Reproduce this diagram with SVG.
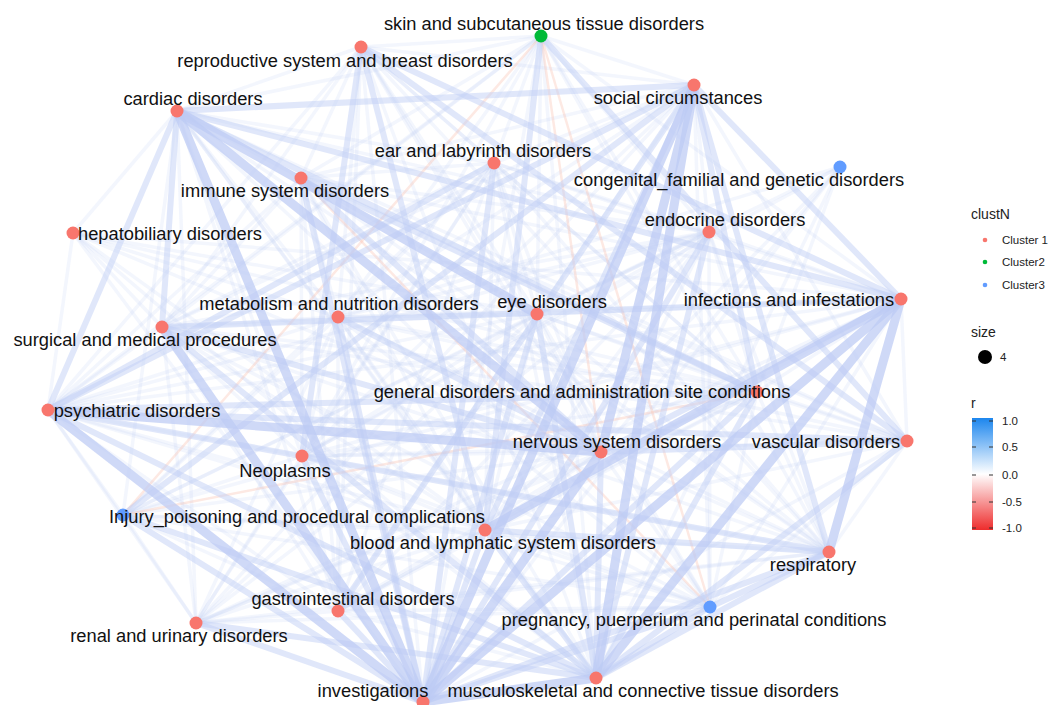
<svg xmlns="http://www.w3.org/2000/svg" width="1057" height="705" viewBox="0 0 1057 705">
<style>
.e1 path{stroke:#c2d0f5;stroke-width:3.5;stroke-opacity:0.2;fill:none}
.e2 path{stroke:#c2d0f5;stroke-width:6;stroke-opacity:0.5;fill:none}
.e3 path{stroke:#bccbf4;stroke-width:9;stroke-opacity:0.72;fill:none}
.en path{stroke:#f8bfae;stroke-width:2.5;stroke-opacity:0.35;fill:none}
.c1{fill:#F8766D}.c2{fill:#00BA38}.c3{fill:#619CFF}
text{font-family:"Liberation Sans",Arial,sans-serif;fill:#111}
.lb{font-size:18.3px;text-anchor:middle}
.lg{font-size:11.5px;fill:#222}
.lt{font-size:14px;fill:#222}
.tk{stroke:#333;stroke-width:1}
</style>
<defs>
<linearGradient id="rg" x1="0" y1="0" x2="0" y2="1">
<stop offset="0" stop-color="#1C86EE"/>
<stop offset="0.5" stop-color="#ffffff"/>
<stop offset="1" stop-color="#EE2C2C"/>
</linearGradient>
</defs>
<rect width="1057" height="705" fill="#ffffff"/>
<g id="connectors">
<g class="e1">
<path d="M541 36L361 47"/><path d="M541 36L177 111"/><path d="M541 36L494 163"/><path d="M541 36L301 178"/><path d="M541 36L338 317"/><path d="M541 36L537 314"/><path d="M541 36L162 327"/><path d="M541 36L48 410"/><path d="M541 36L302 456"/><path d="M541 36L423 702"/><path d="M541 36L596 678"/><path d="M541 36L757 392"/><path d="M541 36L901 299"/><path d="M541 36L694 85"/><path d="M541 36L709 232"/><path d="M541 36L829 552"/>
<path d="M361 47L177 111"/><path d="M361 47L494 163"/><path d="M361 47L301 178"/><path d="M361 47L338 317"/><path d="M361 47L537 314"/><path d="M361 47L162 327"/><path d="M361 47L48 410"/><path d="M361 47L601 452"/><path d="M361 47L757 392"/><path d="M361 47L338 611"/><path d="M361 47L423 702"/><path d="M361 47L596 678"/><path d="M361 47L694 85"/><path d="M361 47L829 552"/><path d="M361 47L710 607"/>
<path d="M177 111L494 163"/><path d="M177 111L301 178"/><path d="M177 111L338 317"/><path d="M177 111L302 456"/><path d="M177 111L485 530"/><path d="M177 111L338 611"/><path d="M177 111L196 623"/><path d="M177 111L596 678"/><path d="M177 111L829 552"/><path d="M177 111L710 607"/><path d="M177 111L907 441"/><path d="M177 111L123 515"/><path d="M177 111L73 233"/><path d="M177 111L709 232"/>
<path d="M694 85L494 163"/><path d="M694 85L301 178"/><path d="M694 85L338 317"/><path d="M694 85L537 314"/><path d="M694 85L162 327"/><path d="M694 85L302 456"/><path d="M694 85L196 623"/><path d="M694 85L710 607"/><path d="M694 85L709 232"/><path d="M694 85L907 441"/>
<path d="M494 163L301 178"/><path d="M494 163L338 317"/><path d="M494 163L537 314"/><path d="M494 163L162 327"/><path d="M494 163L757 392"/><path d="M494 163L601 452"/><path d="M494 163L485 530"/><path d="M494 163L596 678"/><path d="M494 163L901 299"/><path d="M494 163L829 552"/><path d="M494 163L302 456"/><path d="M494 163L123 515"/><path d="M494 163L338 611"/><path d="M494 163L196 623"/><path d="M494 163L709 232"/>
<path d="M301 178L338 317"/><path d="M301 178L537 314"/><path d="M301 178L162 327"/><path d="M301 178L48 410"/><path d="M301 178L485 530"/><path d="M301 178L596 678"/><path d="M301 178L901 299"/><path d="M301 178L829 552"/><path d="M301 178L302 456"/><path d="M301 178L338 611"/><path d="M301 178L709 232"/><path d="M301 178L907 441"/>
<path d="M840 167L757 392"/><path d="M840 167L601 452"/><path d="M840 167L485 530"/><path d="M840 167L423 702"/><path d="M840 167L596 678"/><path d="M840 167L537 314"/><path d="M840 167L302 456"/><path d="M840 167L338 317"/>
<path d="M709 232L338 317"/><path d="M709 232L537 314"/><path d="M709 232L162 327"/><path d="M709 232L48 410"/><path d="M709 232L601 452"/><path d="M709 232L485 530"/><path d="M709 232L901 299"/><path d="M709 232L829 552"/><path d="M709 232L757 392"/><path d="M709 232L123 515"/><path d="M709 232L302 456"/><path d="M709 232L338 611"/><path d="M709 232L196 623"/><path d="M709 232L710 607"/>
<path d="M73 233L338 317"/><path d="M73 233L537 314"/><path d="M73 233L757 392"/><path d="M73 233L601 452"/><path d="M73 233L423 702"/><path d="M73 233L596 678"/><path d="M73 233L901 299"/><path d="M73 233L48 410"/><path d="M73 233L485 530"/><path d="M73 233L162 327"/>
<path d="M338 317L537 314"/><path d="M338 317L162 327"/><path d="M338 317L48 410"/><path d="M338 317L485 530"/><path d="M338 317L596 678"/><path d="M338 317L901 299"/><path d="M338 317L757 392"/><path d="M338 317L829 552"/><path d="M338 317L338 611"/><path d="M338 317L302 456"/><path d="M338 317L196 623"/><path d="M338 317L123 515"/><path d="M338 317L907 441"/><path d="M338 317L710 607"/>
<path d="M537 314L162 327"/><path d="M537 314L48 410"/><path d="M537 314L601 452"/><path d="M537 314L485 530"/><path d="M537 314L901 299"/><path d="M537 314L757 392"/><path d="M537 314L829 552"/><path d="M537 314L302 456"/><path d="M537 314L338 611"/><path d="M537 314L710 607"/><path d="M537 314L196 623"/><path d="M537 314L123 515"/><path d="M537 314L907 441"/>
<path d="M901 299L757 392"/><path d="M901 299L48 410"/><path d="M901 299L302 456"/><path d="M901 299L123 515"/><path d="M901 299L338 611"/><path d="M901 299L196 623"/><path d="M901 299L907 441"/><path d="M901 299L710 607"/>
<path d="M162 327L757 392"/><path d="M162 327L485 530"/><path d="M162 327L829 552"/><path d="M162 327L302 456"/><path d="M162 327L338 611"/><path d="M162 327L710 607"/><path d="M162 327L196 623"/><path d="M162 327L48 410"/><path d="M162 327L907 441"/>
<path d="M757 392L601 452"/><path d="M757 392L485 530"/><path d="M757 392L829 552"/><path d="M757 392L710 607"/><path d="M757 392L302 456"/><path d="M757 392L338 611"/><path d="M757 392L907 441"/><path d="M757 392L196 623"/>
<path d="M48 410L302 456"/><path d="M48 410L123 515"/><path d="M48 410L485 530"/><path d="M48 410L338 611"/><path d="M48 410L710 607"/><path d="M48 410L196 623"/>
<path d="M601 452L302 456"/><path d="M601 452L485 530"/><path d="M601 452L829 552"/><path d="M601 452L710 607"/><path d="M601 452L338 611"/><path d="M601 452L196 623"/><path d="M601 452L123 515"/>
<path d="M907 441L829 552"/><path d="M907 441L485 530"/><path d="M907 441L710 607"/><path d="M907 441L423 702"/><path d="M907 441L302 456"/>
<path d="M302 456L485 530"/><path d="M302 456L596 678"/><path d="M302 456L338 611"/><path d="M302 456L829 552"/><path d="M302 456L710 607"/><path d="M302 456L196 623"/><path d="M302 456L123 515"/>
<path d="M123 515L485 530"/><path d="M123 515L338 611"/><path d="M123 515L196 623"/><path d="M123 515L829 552"/><path d="M123 515L710 607"/>
<path d="M485 530L338 611"/><path d="M485 530L710 607"/><path d="M485 530L196 623"/>
<path d="M829 552L338 611"/><path d="M829 552L196 623"/>
<path d="M338 611L596 678"/><path d="M338 611L710 607"/><path d="M338 611L196 623"/><path d="M710 607L196 623"/>
</g>
<g class="en">
<path d="M541 36L123 515"/><path d="M541 36L710 607"/><path d="M301 178L710 607"/><path d="M123 515L757 392"/><path d="M541 36L601 452"/>
</g>
<g class="e2">
<path d="M177 111L48 410"/><path d="M177 111L694 85"/><path d="M177 111L757 392"/><path d="M177 111L901 299"/><path d="M177 111L162 327"/>
<path d="M361 47L901 299"/><path d="M361 47L907 441"/><path d="M541 36L907 441"/>
<path d="M694 85L48 410"/><path d="M694 85L485 530"/><path d="M694 85L829 552"/><path d="M694 85L757 392"/><path d="M694 85L901 299"/><path d="M694 85L338 611"/><path d="M694 85L123 515"/>
<path d="M338 317L423 702"/><path d="M302 456L423 702"/><path d="M123 515L423 702"/><path d="M485 530L423 702"/><path d="M829 552L423 702"/><path d="M338 611L423 702"/><path d="M710 607L423 702"/><path d="M196 623L423 702"/><path d="M196 623L596 678"/>
<path d="M757 392L423 702"/><path d="M757 392L596 678"/><path d="M601 452L596 678"/><path d="M829 552L596 678"/><path d="M710 607L596 678"/><path d="M485 530L596 678"/>
<path d="M709 232L596 678"/><path d="M709 232L423 702"/><path d="M537 314L596 678"/><path d="M537 314L423 702"/><path d="M494 163L423 702"/><path d="M301 178L423 702"/>
<path d="M48 410L757 392"/><path d="M48 410L907 441"/><path d="M162 327L601 452"/><path d="M162 327L596 678"/><path d="M601 452L901 299"/>
<path d="M829 552L710 607"/><path d="M829 552L485 530"/><path d="M907 441L601 452"/><path d="M907 441L596 678"/><path d="M301 178L601 452"/><path d="M338 317L601 452"/>
<path d="M48 410L596 678"/><path d="M361 47L485 530"/><path d="M361 47L302 456"/><path d="M541 36L485 530"/><path d="M48 410L829 552"/><path d="M162 327L901 299"/><path d="M123 515L596 678"/><path d="M494 163L48 410"/><path d="M301 178L757 392"/>
</g>
<g class="e3">
<path d="M177 111L423 702"/><path d="M162 327L423 702"/><path d="M48 410L601 452"/><path d="M48 410L423 702"/><path d="M694 85L423 702"/><path d="M901 299L423 702"/><path d="M901 299L485 530"/><path d="M423 702L596 678"/><path d="M694 85L596 678"/><path d="M901 299L829 552"/><path d="M601 452L423 702"/><path d="M177 111L601 452"/><path d="M901 299L596 678"/><path d="M177 111L537 314"/><path d="M694 85L601 452"/>
</g>
</g>
<g id="nodes">
<g id="n-skin"><circle class="c2" cx="541" cy="36" r="6.5"/><text class="lb" x="544" y="30">skin and subcutaneous tissue disorders</text></g>
<g id="n-reproductive"><circle class="c1" cx="361" cy="47" r="6.5"/><text class="lb" x="345" y="67">reproductive system and breast disorders</text></g>
<g id="n-cardiac"><circle class="c1" cx="177" cy="111" r="6.5"/><text class="lb" x="193" y="105">cardiac disorders</text></g>
<g id="n-social"><circle class="c1" cx="694" cy="85" r="6.5"/><text class="lb" x="678" y="104">social circumstances</text></g>
<g id="n-ear"><circle class="c1" cx="494" cy="163" r="6.5"/><text class="lb" x="483" y="157">ear and labyrinth disorders</text></g>
<g id="n-immune"><circle class="c1" cx="301" cy="178" r="6.5"/><text class="lb" x="285" y="197">immune system disorders</text></g>
<g id="n-congenital"><circle class="c3" cx="840" cy="167" r="6.5"/><text class="lb" x="739" y="186">congenital_familial and genetic disorders</text></g>
<g id="n-endocrine"><circle class="c1" cx="709" cy="232" r="6.5"/><text class="lb" x="725" y="226">endocrine disorders</text></g>
<g id="n-hepatobiliary"><circle class="c1" cx="73" cy="233" r="6.5"/><text class="lb" x="170" y="240">hepatobiliary disorders</text></g>
<g id="n-metabolism"><circle class="c1" cx="338" cy="317" r="6.5"/><text class="lb" x="339" y="310">metabolism and nutrition disorders</text></g>
<g id="n-eye"><circle class="c1" cx="537" cy="314" r="6.5"/><text class="lb" x="552" y="308">eye disorders</text></g>
<g id="n-infections"><circle class="c1" cx="901" cy="299" r="6.5"/><text class="lb" x="789" y="306">infections and infestations</text></g>
<g id="n-surgical"><circle class="c1" cx="162" cy="327" r="6.5"/><text class="lb" x="145" y="346">surgical and medical procedures</text></g>
<g id="n-general"><circle class="c1" cx="757" cy="392" r="6.5"/><text class="lb" x="582" y="398">general disorders and administration site conditions</text></g>
<g id="n-psychiatric"><circle class="c1" cx="48" cy="410" r="6.5"/><text class="lb" x="137" y="417">psychiatric disorders</text></g>
<g id="n-nervous"><circle class="c1" cx="601" cy="452" r="6.5"/><text class="lb" x="617" y="448">nervous system disorders</text></g>
<g id="n-vascular"><circle class="c1" cx="907" cy="441" r="6.5"/><text class="lb" x="826" y="448">vascular disorders</text></g>
<g id="n-neoplasms"><circle class="c1" cx="302" cy="456" r="6.5"/><text class="lb" x="285" y="477">Neoplasms</text></g>
<g id="n-injury"><circle class="c3" cx="123" cy="515" r="6.5"/><text class="lb" x="297" y="523">Injury_poisoning and procedural complications</text></g>
<g id="n-blood"><circle class="c1" cx="485" cy="530" r="6.5"/><text class="lb" x="503" y="549">blood and lymphatic system disorders</text></g>
<g id="n-respiratory"><circle class="c1" cx="829" cy="552" r="6.5"/><text class="lb" x="813" y="571">respiratory</text></g>
<g id="n-gastrointestinal"><circle class="c1" cx="338" cy="611" r="6.5"/><text class="lb" x="353" y="605">gastrointestinal disorders</text></g>
<g id="n-pregnancy"><circle class="c3" cx="710" cy="607" r="6.5"/><text class="lb" x="694" y="626">pregnancy, puerperium and perinatal conditions</text></g>
<g id="n-renal"><circle class="c1" cx="196" cy="623" r="6.5"/><text class="lb" x="179" y="642">renal and urinary disorders</text></g>
<g id="n-investigations"><circle class="c1" cx="423" cy="702" r="6.5"/><text class="lb" x="373" y="697">investigations</text></g>
<g id="n-musculoskeletal"><circle class="c1" cx="596" cy="678" r="6.5"/><text class="lb" x="643" y="697">musculoskeletal and connective tissue disorders</text></g>
</g>
<g id="legend">
<text class="lt" x="971" y="219">clustN</text>
<circle class="c1" cx="985" cy="240" r="2.3"/><text class="lg" x="1002" y="244">Cluster 1</text>
<circle class="c2" cx="985" cy="262" r="2.3"/><text class="lg" x="1002" y="266">Cluster2</text>
<circle class="c3" cx="985" cy="285" r="2.3"/><text class="lg" x="1002" y="289">Cluster3</text>
<text class="lt" x="971" y="337">size</text>
<circle cx="985" cy="357" r="7" fill="#000"/><text class="lg" x="1000" y="361">4</text>
<text class="lt" x="971" y="408">r</text>
<rect x="972" y="418" width="21" height="112" fill="url(#rg)"/>
<path class="tk" d="M972 421h4M989 421h4M972 447h4M989 447h4M972 475h4M989 475h4M972 502h4M989 502h4M972 528h4M989 528h4"/>
<text class="lg" x="1002" y="425">1.0</text>
<text class="lg" x="1002" y="451">0.5</text>
<text class="lg" x="1002" y="479">0.0</text>
<text class="lg" x="1002" y="506">-0.5</text>
<text class="lg" x="1002" y="532">-1.0</text>
</g>
</svg>
